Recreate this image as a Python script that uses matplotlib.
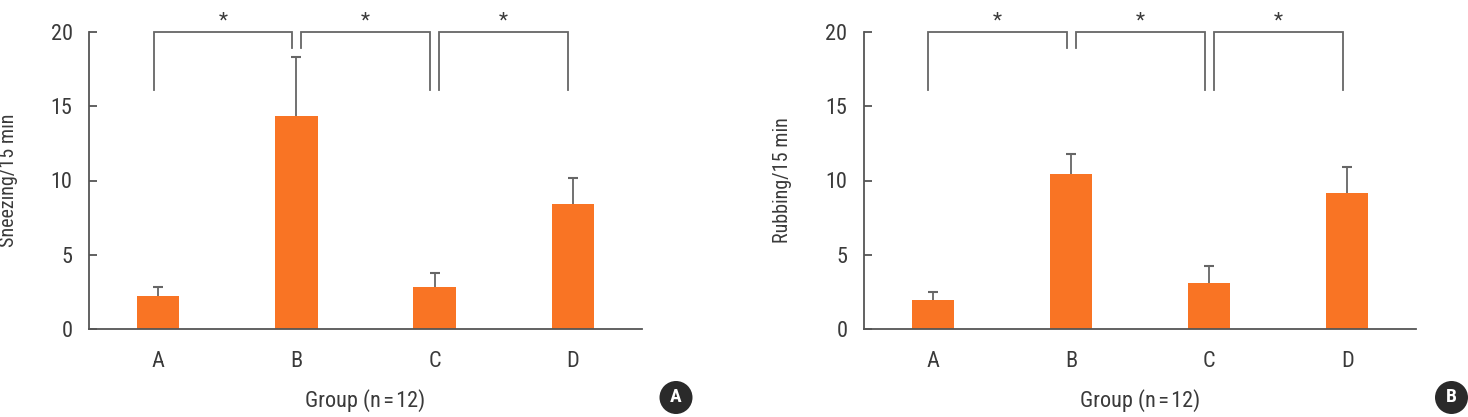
import matplotlib
matplotlib.use("Agg")
import matplotlib.pyplot as plt
from matplotlib.patches import Ellipse
from matplotlib import font_manager

# ---- data ----
groups = ["A", "B", "C", "D"]
sneezing = [2.2, 14.35, 2.85, 8.45]
sneezing_err = [0.65, 4.0, 0.95, 1.72]
rubbing = [1.95, 10.42, 3.1, 9.18]
rubbing_err = [0.56, 1.34, 1.14, 1.71]
yticks = [0, 5, 10, 15, 20]
y_labels = ["Sneezing/15 min", "Rubbing/15 min"]
x_label = "Group (n\u200a=\u200a12)"
panel_letters = ["A", "B"]
# significance brackets: (left group, right group, left leg bottom, right leg bottom)
brackets = [(0, 1, 16.1, 18.9), (1, 2, 18.9, 16.1), (2, 3, 16.1, 16.1)]
bracket_top = 20
star_y = 20.75

W, H = 1468, 417
names = {f.name for f in font_manager.fontManager.ttflist}
cands = [n for n in ["Roboto Condensed", "Liberation Sans Narrow", "Open Sans Condensed", "Roboto"] if n in names]
plt.rcParams['font.family'] = cands[:1] + ['DejaVu Sans']
fig = plt.figure(figsize=(W / 100, H / 100), dpi=100)

ORANGE = "#F97424"
GRAY = "#666666"
AXC = "#555555"
TXT = "#3a3a3a"

def px2fig(x, y):
    return x / W, 1 - y / H

panels = [
    dict(x0=89.3, vals=sneezing, errs=sneezing_err, ylabel=y_labels[0], letter=panel_letters[0], cx=676),
    dict(x0=864.0, vals=rubbing, errs=rubbing_err, ylabel=y_labels[1], letter=panel_letters[1], cx=1451.5),
]
ax_w = 552.4
for p in panels:
    l, b = px2fig(p["x0"], 329)
    ax = fig.add_axes([l, b, ax_w / W, (329 - 32) / H])
    xs = list(range(len(groups)))
    tops = [v + e for v, e in zip(p["vals"], p["errs"])]
    ax.bar(xs, p["vals"], width=0.305, color=ORANGE, zorder=2)
    ax.errorbar(xs, p["vals"], yerr=[[0] * len(groups), p["errs"]], fmt="none",
                ecolor=GRAY, elinewidth=1.3, capsize=0, zorder=3)
    ax.plot(xs, tops, linestyle="none", marker="_", markersize=7, markeredgewidth=1.5,
            color=GRAY, zorder=3)
    ax.set_xlim(-0.5, 3.5)
    ax.set_ylim(0, 20)
    ax.set_yticks(yticks)
    ax.set_xticks(xs)
    ax.set_xticklabels(groups)
    for s in ["top", "right"]:
        ax.spines[s].set_visible(False)
    for s in ["left", "bottom"]:
        ax.spines[s].set_color(AXC)
        ax.spines[s].set_linewidth(1.3)
    ax.tick_params(axis="y", direction="in", length=6, width=1.3, color=AXC,
                   labelsize=16, labelcolor=TXT, pad=12)
    ax.tick_params(axis="x", length=0, labelsize=16, labelcolor=TXT, pad=16)
    ax.text(-81 / ax_w, 0.5, p["ylabel"], rotation=90, ha="center", va="center",
            transform=ax.transAxes, fontsize=14.5, color=TXT)
    ax.text(0.5, (329 - 401) / 297, x_label, ha="center", va="center",
            transform=ax.transAxes, fontsize=16, color=TXT)
    off = 0.033
    for (i, j, lb, rb) in brackets:
        xl = i + (off if i > 0 else -off)
        xr = j - off
        ax.plot([xl, xl, xr, xr], [lb, bracket_top, bracket_top, rb], color=GRAY,
                lw=1.3, clip_on=False, solid_joinstyle="miter")
        ax.text((xl + xr) / 2, star_y, "*", ha="center", va="center",
                fontsize=15, color=TXT, clip_on=False)
    # panel letter
    cx, cy = px2fig(p["cx"], 397.5)
    e = Ellipse((cx, cy), 33 / W, 33 / H, transform=fig.transFigure,
                facecolor="#2a2a2a", edgecolor="none")
    fig.add_artist(e)
    fig.text(cx, cy, p["letter"], ha="center", va="center", color="white",
             fontsize=14, fontweight="bold")

fig.savefig("out.png", dpi=100)
